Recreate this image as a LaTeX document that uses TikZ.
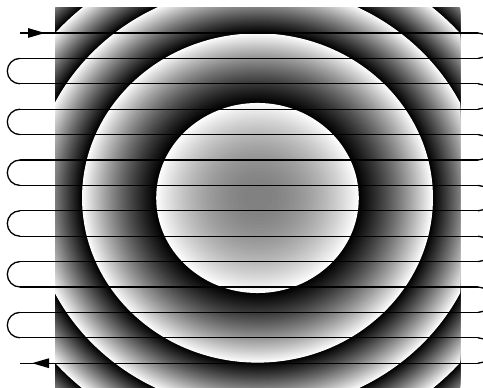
\documentclass[tikz,border=0pt]{standalone}
\usetikzlibrary{arrows.meta}
\begin{document}
\begin{tikzpicture}[x=1pt,y=1pt,
  track/.style={line width=1.3pt},
  tip/.style={-{Triangle[length=17pt,width=9.5pt]}}]
  \clip (0,0) rectangle (483,388);
  % wrapped phase rings
  \begin{scope}
    \clip (55,0) rectangle (460,380);
    \fill[black!50] (55,0) rectangle (460,380);
    \foreach \i in {400,399,...,1}{
      \pgfmathsetmacro\rr{sqrt(\i*0.005)}
      \pgfmathsetmacro\g{mod(\i+49.5,100)/100}
      \definecolor{ringgray}{gray}{\g}
      \fill[ringgray] (257.5,190) ellipse ({202.5*\rr} and {190*\rr});
    }
  \end{scope}
  % scan path
  \foreach \k in {0,...,13}{
    \coordinate (L\k) at (20,{355-25.4*\k});
    \coordinate (R\k) at (478,{355-25.4*\k});
  }
  \foreach \k in {0,...,13} \draw[track] (L\k) -- (R\k);
  \foreach \k in {0,2,...,12} \draw[track] (R\k) arc[start angle=90,end angle=-90,radius=12.7pt];
  \foreach \k in {1,3,...,11} \draw[track] (L\k) arc[start angle=90,end angle=270,radius=12.7pt];
  \draw[track,tip] (L0) -- ++(25,0);
  \draw[track,tip] (L13) ++(30,0) -- ++(-18,0);
\end{tikzpicture}
\end{document}
